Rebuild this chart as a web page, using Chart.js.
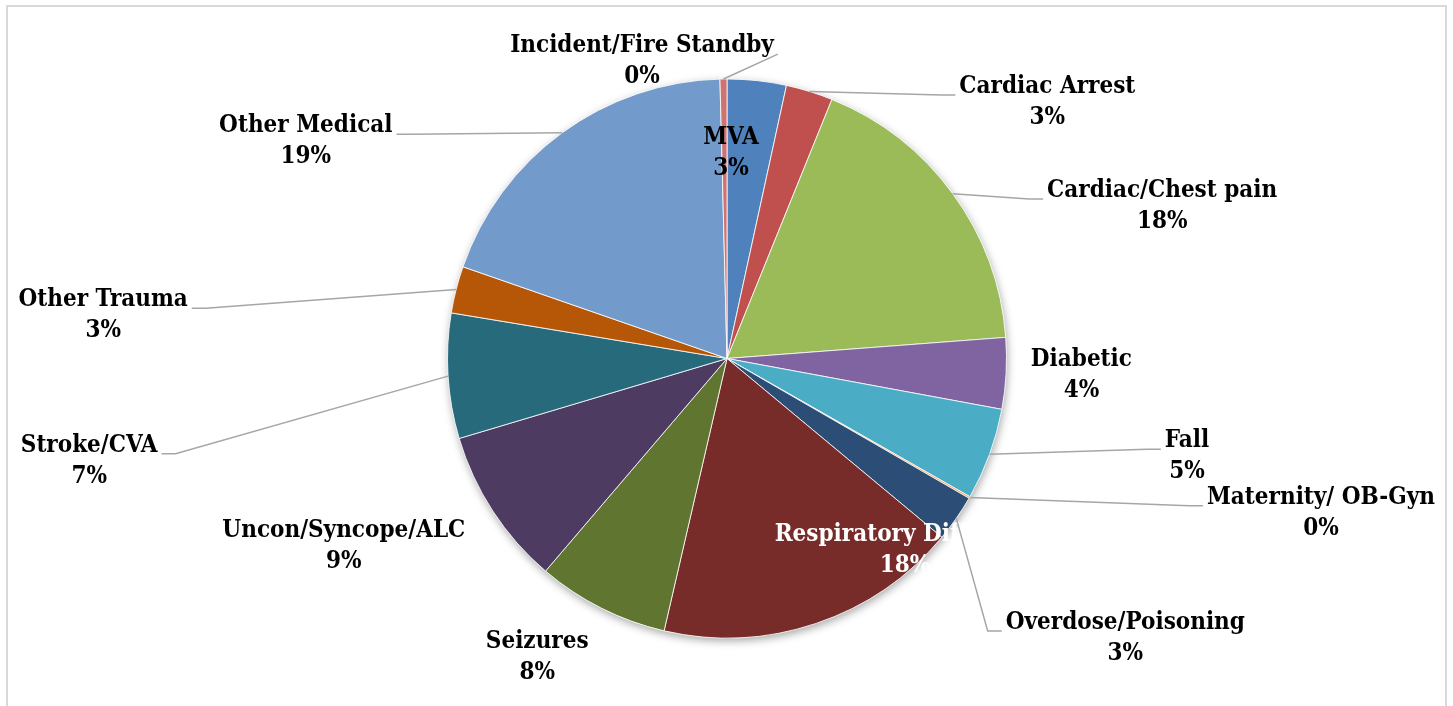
<!DOCTYPE html>
<html><head><meta charset="utf-8">
<script src="https://cdn.jsdelivr.net/npm/chart.js@4"></script>
<style>
html,body{margin:0;padding:0;background:#fff;overflow:hidden}
#wrap{position:relative;width:1453px;height:706px}
#frame{position:absolute;left:6px;top:5px;width:1441px;height:740px;border:2px solid #d9d9d9;box-sizing:border-box}
canvas{position:absolute;left:0;top:0}
</style></head><body>
<div id="wrap"><div id="frame"></div><canvas id="c" width="1453" height="706"></canvas></div>
<script>
const categories = ["MVA","Cardiac Arrest","Cardiac/Chest pain","Diabetic","Fall","Maternity/ OB-Gyn","Overdose/Poisoning","Respiratory Difficulty","Seizures","Uncon/Syncope/ALC","Stroke/CVA","Other Trauma","Other Medical","Incident/Fire Standby"];
const counts = [34,27,176,41,53,1,27,175,76,91,72,27,192,4];
const sliceColors = ["#4F81BD","#C0504D","#9BBB59","#8064A2","#4BACC6","#F79646","#2C4D75","#772C2A","#5F7530","#4D3B62","#276A7C","#B65708","#729ACA","#CD7371"];

// label layout: offsets of label block centre from pie centre, in radii
const labelLayout = [
  {dx:0.014, dy:-0.736, leader:false, color:"#000"},
  {dx:1.146, dy:-0.918, leader:true, color:"#000"},
  {dx:1.557, dy:-0.546, leader:true, color:"#000"},
  {dx:1.268, dy:0.061, leader:false, color:"#000"},
  {dx:1.646, dy:0.350, leader:true, color:"#000"},
  {dx:2.125, dy:0.552, leader:true, color:"#000"},
  {dx:1.425, dy:1.000, leader:true, color:"#000"},
  {dx:0.637, dy:0.686, leader:false, color:"#fff"},
  {dx:-0.679, dy:1.070, leader:false, color:"#000"},
  {dx:-1.371, dy:0.673, leader:false, color:"#000"},
  {dx:-2.282, dy:0.366, leader:true, color:"#000"},
  {dx:-2.232, dy:-0.155, leader:true, color:"#000"},
  {dx:-1.507, dy:-0.777, leader:true, color:"#000"},
  {dx:-0.304, dy:-1.064, leader:true, color:"#000", elbow:0}
];

const LABEL_FONT = 'bold 24px "DejaVu Serif Condensed", "DejaVu Serif", serif';

const shadowPlugin = {
  id:'pieShadow',
  beforeDatasetsDraw(chart){
    const arc = chart.getDatasetMeta(0).data[0];
    if(!arc) return;
    const {x,y,outerRadius} = arc.getProps(['x','y','outerRadius'],true);
    const ctx = chart.ctx;
    ctx.save();
    ctx.shadowColor = 'rgba(0,0,0,0.35)';
    ctx.shadowBlur = 9;
    ctx.shadowOffsetX = 1;
    ctx.shadowOffsetY = 3;
    ctx.fillStyle = '#ffffff';
    ctx.beginPath(); ctx.arc(x,y,outerRadius,0,Math.PI*2); ctx.fill();
    ctx.restore();
  }
};

const labelPlugin = {
  id:'pieLabels',
  afterDatasetsDraw(chart){
    const ctx = chart.ctx;
    const meta = chart.getDatasetMeta(0);
    const total = counts.reduce((a,b)=>a+b,0);
    ctx.save();
    ctx.font = LABEL_FONT;
    try{ ctx.fontStretch = 'condensed'; }catch(e){}
    ctx.textAlign = 'center';
    ctx.textBaseline = 'middle';
    const leaders = [];
    meta.data.forEach((arc,i)=>{
      const p = arc.getProps(['x','y','startAngle','endAngle','outerRadius'],true);
      const lp = labelLayout[i];
      const r = p.outerRadius;
      const cx = p.x + lp.dx*r, cy = p.y + lp.dy*r;
      const lines = [categories[i], Math.round(counts[i]/total*100)+'%'];
      ctx.fillStyle = lp.color;
      ctx.fillText(lines[0], cx, cy-15.5);
      ctx.fillText(lines[1], cx, cy+15.5);
      if(lp.leader){
        const mid = (p.startAngle+p.endAngle)/2;
        const ax = p.x + Math.cos(mid)*r, ay = p.y + Math.sin(mid)*r;
        const w = Math.max(...lines.map(t=>ctx.measureText(t).width));
        const ey = cy - 7;
        const ex = ax < cx ? cx - w/2 - 4 : cx + w/2 + 4;
        const el = lp.elbow === undefined ? 14 : lp.elbow;
        const bx = ex + Math.sign(ax-ex)*Math.min(el, Math.abs(ax-ex));
        leaders.push([ax,ay,bx,ey,ex,ey]);
      }
    });
    ctx.strokeStyle = '#a6a6a6';
    ctx.lineWidth = 1.5;
    leaders.forEach(l=>{
      ctx.beginPath(); ctx.moveTo(l[0],l[1]); ctx.lineTo(l[2],l[3]); ctx.lineTo(l[4],l[5]); ctx.stroke();
    });
    ctx.restore();
  }
};

new Chart(document.getElementById('c'), {
  type:'pie',
  data:{ labels:categories, datasets:[{ data:counts, backgroundColor:sliceColors, borderColor:'rgba(255,255,255,0.8)', borderWidth:1 }] },
  options:{
    responsive:false, animation:false,
    layout:{ padding:{ left:447, right:446, top:78.5, bottom:67.5 } },
    plugins:{ legend:{display:false}, tooltip:{enabled:false} }
  },
  plugins:[shadowPlugin, labelPlugin]
});
</script>
</body></html>
